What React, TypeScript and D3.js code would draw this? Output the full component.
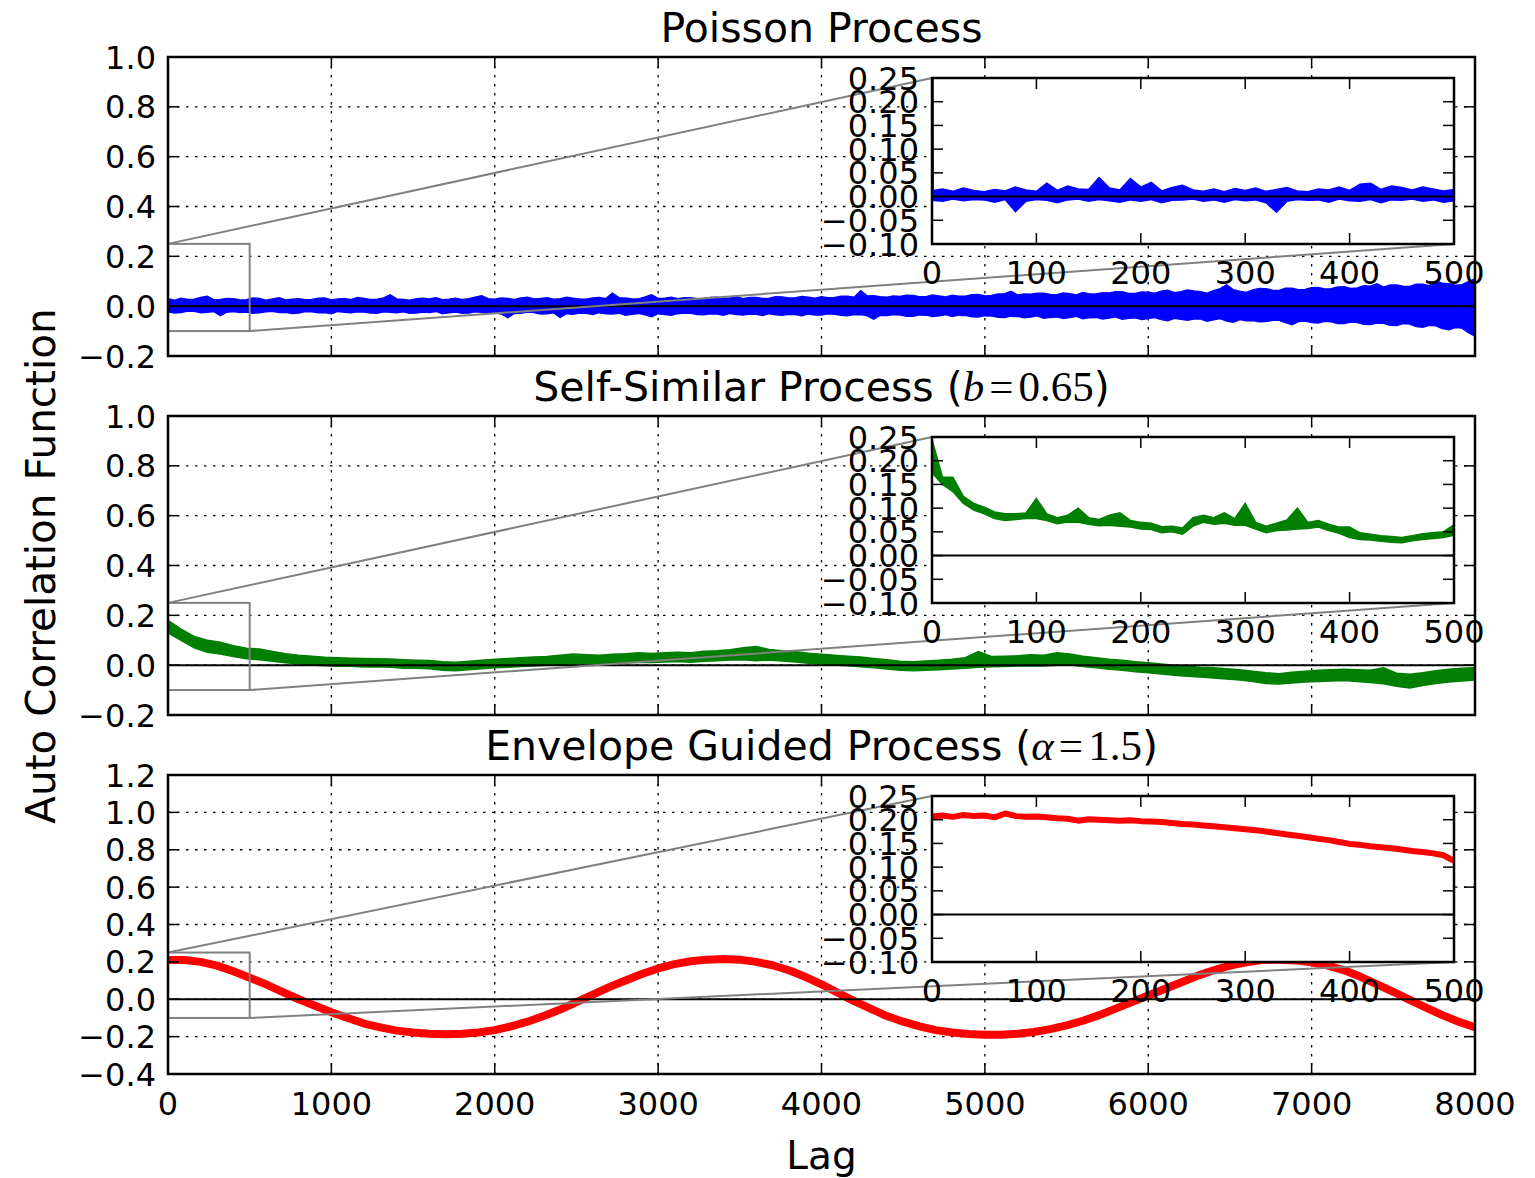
import React from "react";
import * as d3 from "d3";

// ---- values ----
const lagTicks = [0, 1000, 2000, 3000, 4000, 5000, 6000, 7000, 8000];
const insetLagTicks = [0, 100, 200, 300, 400, 500];
const acfTicks = [-0.2, 0, 0.2, 0.4, 0.6, 0.8, 1.0];
const envelopeTicks = [-0.4, -0.2, 0, 0.2, 0.4, 0.6, 0.8, 1.0, 1.2];
const insetTicks = [-0.1, -0.05, 0, 0.05, 0.1, 0.15, 0.2, 0.25];
const zoomBox = { lag: [0, 500], acf: [-0.1, 0.25] };

const poissonLag = 40; // lag spacing of the min/max bins of the Poisson trace
const binLag = 80; // lag spacing of the min/max bins of the self-similar trace
const envelopeLag = 100; // lag spacing of the envelope-guided samples
const insetLag = 10; // lag spacing inside the insets

// Poisson: upper / lower edge of the noisy trace, one pair per 40 lags
const poissonHi = [
  0.030, 0.024, 0.032, 0.027, 0.028, 0.035, 0.040, 0.026, 0.027, 0.031,
  0.030, 0.025, 0.026, 0.033, 0.031, 0.024, 0.029, 0.034, 0.025, 0.028,
  0.030, 0.026, 0.027, 0.032, 0.033, 0.025, 0.029, 0.031, 0.026, 0.035,
  0.031, 0.027, 0.028, 0.033, 0.045, 0.029, 0.027, 0.024, 0.030, 0.032,
  0.029, 0.034, 0.026, 0.028, 0.032, 0.027, 0.030, 0.036, 0.042, 0.030,
  0.028, 0.033, 0.031, 0.027, 0.033, 0.036, 0.029, 0.031, 0.034, 0.028,
  0.030, 0.036, 0.032, 0.029, 0.028, 0.033, 0.035, 0.030, 0.052, 0.034,
  0.033, 0.029, 0.029, 0.037, 0.046, 0.031, 0.032, 0.036, 0.030, 0.034,
  0.034, 0.030, 0.031, 0.035, 0.036, 0.032, 0.033, 0.038, 0.030, 0.035,
  0.035, 0.031, 0.032, 0.038, 0.037, 0.033, 0.034, 0.039, 0.036, 0.032,
  0.038, 0.034, 0.035, 0.040, 0.040, 0.036, 0.062, 0.041, 0.042, 0.038,
  0.036, 0.041, 0.039, 0.044, 0.043, 0.038, 0.038, 0.045, 0.041, 0.037,
  0.044, 0.040, 0.040, 0.046, 0.047, 0.041, 0.043, 0.049, 0.050, 0.060,
  0.045, 0.049, 0.048, 0.052, 0.052, 0.047, 0.046, 0.053, 0.050, 0.045,
  0.055, 0.049, 0.049, 0.054, 0.053, 0.058, 0.058, 0.051, 0.051, 0.057,
  0.056, 0.052, 0.060, 0.064, 0.054, 0.058, 0.065, 0.061, 0.058, 0.052,
  0.062, 0.070, 0.085, 0.066, 0.060, 0.055, 0.065, 0.071, 0.070, 0.064,
  0.063, 0.072, 0.072, 0.066, 0.067, 0.074, 0.075, 0.069, 0.070, 0.077,
  0.078, 0.071, 0.073, 0.082, 0.080, 0.090, 0.076, 0.085, 0.085, 0.080,
  0.079, 0.088, 0.088, 0.082, 0.100, 0.092, 0.090, 0.084, 0.086, 0.098,
  0.110,
];
const poissonLo = [
  -0.022, -0.027, -0.025, -0.019, -0.020, -0.026, -0.024, -0.021, -0.038, -0.024,
  -0.021, -0.025, -0.023, -0.028, -0.026, -0.022, -0.020, -0.025, -0.024, -0.029,
  -0.027, -0.021, -0.022, -0.026, -0.025, -0.030, -0.021, -0.024, -0.026, -0.022,
  -0.023, -0.027, -0.028, -0.022, -0.024, -0.026, -0.022, -0.028, -0.027, -0.023,
  -0.025, -0.021, -0.030, -0.026, -0.023, -0.028, -0.027, -0.022, -0.024, -0.029,
  -0.026, -0.031, -0.046, -0.029, -0.028, -0.023, -0.025, -0.031, -0.030, -0.026,
  -0.045, -0.030, -0.032, -0.027, -0.028, -0.033, -0.026, -0.030, -0.031, -0.028,
  -0.036, -0.032, -0.029, -0.035, -0.042, -0.030, -0.033, -0.036, -0.030, -0.027,
  -0.028, -0.033, -0.034, -0.030, -0.031, -0.036, -0.029, -0.033, -0.035, -0.031,
  -0.032, -0.037, -0.030, -0.034, -0.036, -0.032, -0.033, -0.038, -0.031, -0.035,
  -0.035, -0.030, -0.032, -0.036, -0.038, -0.033, -0.034, -0.039, -0.052, -0.036,
  -0.037, -0.033, -0.035, -0.040, -0.040, -0.035, -0.036, -0.041, -0.038, -0.034,
  -0.041, -0.036, -0.037, -0.042, -0.043, -0.038, -0.039, -0.044, -0.045, -0.040,
  -0.041, -0.046, -0.044, -0.039, -0.048, -0.045, -0.043, -0.049, -0.046, -0.041,
  -0.050, -0.046, -0.045, -0.051, -0.048, -0.043, -0.052, -0.049, -0.047, -0.053,
  -0.050, -0.046, -0.054, -0.058, -0.049, -0.053, -0.056, -0.052, -0.052, -0.060,
  -0.055, -0.050, -0.060, -0.064, -0.054, -0.059, -0.058, -0.063, -0.062, -0.057,
  -0.057, -0.066, -0.074, -0.062, -0.060, -0.066, -0.068, -0.061, -0.063, -0.070,
  -0.070, -0.064, -0.066, -0.073, -0.074, -0.068, -0.069, -0.077, -0.078, -0.070,
  -0.072, -0.082, -0.085, -0.077, -0.079, -0.090, -0.095, -0.086, -0.088, -0.106,
  -0.120,
];
const poissonLag0 = 1.0;
const poissonInsetHi = [
  0.012, 0.016, 0.011, 0.018, 0.013, 0.010, 0.015, 0.012, 0.020, 0.014,
  0.011, 0.028, 0.013, 0.022, 0.016, 0.015, 0.040, 0.018, 0.014, 0.038,
  0.020, 0.030, 0.012, 0.019, 0.024, 0.014, 0.011, 0.016, 0.010, 0.017,
  0.013, 0.018, 0.011, 0.015, 0.019, 0.012, 0.010, 0.016, 0.014, 0.020,
  0.013, 0.026, 0.028, 0.015, 0.022, 0.019, 0.014, 0.020, 0.016, 0.012, 0.015,
];
const poissonInsetLo = [
  -0.008, -0.010, -0.005, -0.009, -0.006, -0.007, -0.012, -0.006, -0.032, -0.010,
  -0.006, -0.008, -0.013, -0.007, -0.005, -0.010, -0.006, -0.009, -0.012, -0.007,
  -0.010, -0.006, -0.013, -0.008, -0.007, -0.005, -0.010, -0.007, -0.012, -0.006,
  -0.009, -0.007, -0.013, -0.033, -0.010, -0.006, -0.008, -0.007, -0.012, -0.005,
  -0.009, -0.010, -0.006, -0.013, -0.007, -0.008, -0.005, -0.010, -0.007, -0.012, -0.009,
];

// Self-similar (b = 0.65)
const selfSimilarHi = [
  0.180, 0.145, 0.115, 0.100, 0.092, 0.078, 0.068, 0.065, 0.055, 0.046,
  0.040, 0.036, 0.032, 0.030, 0.028, 0.027, 0.026, 0.025, 0.022, 0.020,
  0.019, 0.014, 0.012, 0.016, 0.020, 0.024, 0.027, 0.030, 0.033, 0.035,
  0.040, 0.045, 0.042, 0.040, 0.044, 0.046, 0.050, 0.047, 0.050, 0.052,
  0.050, 0.056, 0.058, 0.062, 0.070, 0.075, 0.063, 0.058, 0.055, 0.048,
  0.044, 0.040, 0.036, 0.033, 0.027, 0.022, 0.016, 0.014, 0.017, 0.020,
  0.024, 0.030, 0.055, 0.035, 0.036, 0.038, 0.042, 0.040, 0.050, 0.045,
  0.036, 0.030, 0.024, 0.020, 0.014, 0.010, 0.005, 0.000, -0.004, -0.008,
  -0.010, -0.014, -0.018, -0.024, -0.030, -0.034, -0.028, -0.024, -0.020, -0.018,
  -0.016, -0.018, -0.020, -0.010, -0.032, -0.036, -0.030, -0.022, -0.016, -0.012, -0.010,
];
const selfSimilarLo = [
  0.130, 0.100, 0.070, 0.052, 0.045, 0.035, 0.026, 0.022, 0.016, 0.010,
  0.005, 0.001, -0.002, -0.004, -0.004, -0.007, -0.006, -0.008, -0.012, -0.012,
  -0.014, -0.020, -0.022, -0.018, -0.014, -0.010, -0.008, -0.005, -0.003, 0.000,
  0.003, 0.005, 0.007, 0.004, 0.008, 0.010, 0.012, 0.011, 0.013, 0.015,
  0.012, 0.016, 0.018, 0.021, 0.022, 0.018, 0.021, 0.017, 0.013, 0.008,
  0.005, 0.001, -0.002, -0.006, -0.010, -0.015, -0.020, -0.022, -0.020, -0.018,
  -0.015, -0.012, -0.008, -0.006, -0.005, -0.003, -0.002, -0.003, 0.000, 0.001,
  -0.005, -0.010, -0.016, -0.020, -0.026, -0.030, -0.035, -0.040, -0.044, -0.048,
  -0.052, -0.056, -0.060, -0.066, -0.074, -0.076, -0.072, -0.068, -0.066, -0.064,
  -0.062, -0.066, -0.070, -0.075, -0.085, -0.092, -0.082, -0.074, -0.068, -0.064, -0.060,
];
const selfSimilarInsetHi = [
  0.245, 0.165, 0.165, 0.125, 0.110, 0.102, 0.092, 0.088, 0.088, 0.090,
  0.120, 0.088, 0.080, 0.085, 0.100, 0.080, 0.076, 0.085, 0.090, 0.074,
  0.070, 0.068, 0.061, 0.062, 0.058, 0.080, 0.085, 0.080, 0.090, 0.078,
  0.110, 0.070, 0.062, 0.068, 0.075, 0.100, 0.070, 0.074, 0.066, 0.060,
  0.060, 0.048, 0.045, 0.042, 0.040, 0.038, 0.042, 0.046, 0.048, 0.050, 0.065,
];
const selfSimilarInsetLo = [
  0.175, 0.150, 0.135, 0.110, 0.096, 0.088, 0.078, 0.074, 0.076, 0.078,
  0.078, 0.074, 0.067, 0.071, 0.070, 0.066, 0.063, 0.064, 0.062, 0.060,
  0.056, 0.055, 0.048, 0.050, 0.045, 0.062, 0.070, 0.066, 0.068, 0.064,
  0.064, 0.056, 0.048, 0.053, 0.054, 0.056, 0.057, 0.060, 0.053, 0.047,
  0.038, 0.034, 0.033, 0.030, 0.028, 0.027, 0.031, 0.034, 0.036, 0.038, 0.043,
];

// Envelope guided (alpha = 1.5): one value per 100 lags
const envelopeAcf = [
  0.210, 0.210, 0.200, 0.180, 0.150, 0.115, 0.080, 0.040, 0.000, -0.035,
  -0.070, -0.100, -0.130, -0.150, -0.168, -0.178, -0.185, -0.187, -0.185, -0.178,
  -0.165, -0.145, -0.120, -0.090, -0.055, -0.015, 0.025, 0.065, 0.100, 0.135,
  0.165, 0.188, 0.203, 0.212, 0.215, 0.212, 0.200, 0.182, 0.155, 0.120,
  0.080, 0.035, -0.010, -0.050, -0.090, -0.120, -0.145, -0.165, -0.178, -0.186,
  -0.190, -0.190, -0.185, -0.175, -0.160, -0.140, -0.115, -0.085, -0.050, -0.015,
  0.020, 0.055, 0.090, 0.125, 0.155, 0.180, 0.198, 0.210, 0.212, 0.208,
  0.198, 0.180, 0.155, 0.120, 0.080, 0.040, -0.003, -0.045, -0.085, -0.120, -0.150,
];
const envelopeInsetAcf = [
  0.207, 0.209, 0.206, 0.210, 0.208, 0.209, 0.205, 0.213, 0.208, 0.206,
  0.207, 0.205, 0.203, 0.202, 0.198, 0.201, 0.200, 0.199, 0.198, 0.199,
  0.197, 0.196, 0.195, 0.193, 0.191, 0.190, 0.188, 0.186, 0.184, 0.182,
  0.180, 0.178, 0.175, 0.172, 0.169, 0.166, 0.163, 0.160, 0.157, 0.153,
  0.149, 0.147, 0.144, 0.142, 0.140, 0.137, 0.134, 0.132, 0.129, 0.125, 0.113,
];

const panels = [
  {
    title: "Poisson Process", param: null, color: "#0000ff", yTicks: acfTicks,
    main: { hi: poissonHi, lo: poissonLo, step: poissonLag },
    inset: { hi: poissonInsetHi, lo: poissonInsetLo, step: insetLag, lag0: poissonLag0 },
  },
  {
    title: "Self-Similar Process", param: { symbol: "b", value: "0.65" }, color: "#007f00", yTicks: acfTicks,
    main: { hi: selfSimilarHi, lo: selfSimilarLo, step: binLag },
    inset: { hi: selfSimilarInsetHi, lo: selfSimilarInsetLo, step: insetLag },
  },
  {
    title: "Envelope Guided Process", param: { symbol: "\u03b1", value: "1.5" }, color: "#ff0000", yTicks: envelopeTicks,
    main: { values: envelopeAcf, step: envelopeLag, width: 8 },
    inset: { values: envelopeInsetAcf, step: insetLag, width: 6 },
  },
];

// ---- layout ----
const W = 1535;
const H = 1178;
const axL = 168;
const axR = 1475;
const axTops = [57, 416, 775];
const axH = 299;
const inL = 932;
const inR = 1454;
const inOffset = 21;
const inH = 166;
const tickFont = 32;
const tickLen = 11;
const fmt1 = d3.format(".1f");
const fmt2 = d3.format(".2f");

function Trace({ s, xs, ys, color, clip }) {
  if (s.values) {
    const line = d3.line<number>().x((_, i) => xs(i * s.step)).y((d) => ys(d));
    return (
      <path d={line(s.values) || ""} fill="none" stroke={color} strokeWidth={s.width}
        strokeLinejoin="round" clipPath={`url(#${clip})`} />
    );
  }
  const area = d3.area<number>()
    .x((_, i) => xs(i * s.step))
    .y0((_, i) => ys(s.lo[i]))
    .y1((d) => ys(d));
  // drop from lag 0 to lag 1
  const spike = s.lag0 !== undefined
    ? d3.line<number[]>()([[xs(0), ys(s.lag0)], [xs(1), ys(s.hi[0])]])
    : null;
  return (
    <g clipPath={`url(#${clip})`}>
      <path d={area(s.hi) || ""} fill={color} stroke={color} strokeWidth={1.5} strokeLinejoin="miter" />
      {spike && <path d={spike || ""} fill="none" stroke={color} strokeWidth={2} />}
    </g>
  );
}

function Frame({ x0, x1, y0, y1, xTicks, yTicks, xs, ys }) {
  return (
    <g stroke="#000" strokeWidth={1.5}>
      {xTicks.map((t) => (
        <g key={`x${t}`}>
          <line x1={xs(t)} x2={xs(t)} y1={y1} y2={y1 - tickLen} />
          <line x1={xs(t)} x2={xs(t)} y1={y0} y2={y0 + tickLen} />
        </g>
      ))}
      {yTicks.map((t) => (
        <g key={`y${t}`}>
          <line x1={x0} x2={x0 + tickLen} y1={ys(t)} y2={ys(t)} />
          <line x1={x1} x2={x1 - tickLen} y1={ys(t)} y2={ys(t)} />
        </g>
      ))}
      <rect x={x0} y={y0} width={x1 - x0} height={y1 - y0} fill="none" strokeWidth={2.5} />
    </g>
  );
}

function Panel({ cfg, index }) {
  const top = axTops[index];
  const bottom = top + axH;
  const yDom = [cfg.yTicks[0], cfg.yTicks[cfg.yTicks.length - 1]];
  const x = d3.scaleLinear().domain([0, 8000]).range([axL, axR]);
  const y = d3.scaleLinear().domain(yDom).range([bottom, top]);
  const iTop = top + inOffset;
  const iBottom = iTop + inH;
  const ix = d3.scaleLinear().domain([0, 500]).range([inL, inR]);
  const iy = d3.scaleLinear().domain([insetTicks[0], insetTicks[insetTicks.length - 1]]).range([iBottom, iTop]);
  const clipMain = `clip-main-${index}`;
  const clipInset = `clip-inset-${index}`;
  const cx = (axL + axR) / 2;

  return (
    <g>
      <defs>
        <clipPath id={clipMain}><rect x={axL} y={top} width={axR - axL} height={axH} /></clipPath>
        <clipPath id={clipInset}><rect x={inL} y={iTop} width={inR - inL} height={inH} /></clipPath>
      </defs>

      {/* main axes */}
      <g stroke="#000" strokeWidth={1.3} strokeDasharray="2.5,6.5">
        {lagTicks.map((t) => <line key={`gx${t}`} x1={x(t)} x2={x(t)} y1={top} y2={bottom} />)}
        {cfg.yTicks.map((t) => <line key={`gy${t}`} x1={axL} x2={axR} y1={y(t)} y2={y(t)} />)}
      </g>
      <Trace s={cfg.main} xs={x} ys={y} color={cfg.color} clip={clipMain} />
      <line x1={axL} x2={axR} y1={y(0)} y2={y(0)} stroke="#000" strokeWidth={2} />
      <rect x={x(zoomBox.lag[0])} y={y(zoomBox.acf[1])} width={x(zoomBox.lag[1]) - x(zoomBox.lag[0])}
        height={y(zoomBox.acf[0]) - y(zoomBox.acf[1])} fill="none" stroke="#808080" strokeWidth={2} />
      <line x1={x(zoomBox.lag[0])} y1={y(zoomBox.acf[1])} x2={inL} y2={iTop} stroke="#808080" strokeWidth={2} />
      <line x1={x(zoomBox.lag[1])} y1={y(zoomBox.acf[0])} x2={inR} y2={iBottom} stroke="#808080" strokeWidth={2} />
      <Frame x0={axL} x1={axR} y0={top} y1={bottom} xTicks={lagTicks} yTicks={cfg.yTicks} xs={x} ys={y} />
      <g fontSize={tickFont} textAnchor="end">
        {cfg.yTicks.map((t) => (
          <text key={`ly${t}`} x={axL - 12} y={y(t) + tickFont * 0.36}>{fmt1(t)}</text>
        ))}
      </g>
      {index === panels.length - 1 && (
        <g fontSize={tickFont} textAnchor="middle">
          {lagTicks.map((t) => <text key={`lx${t}`} x={x(t)} y={bottom + 41}>{t}</text>)}
        </g>
      )}

      {/* inset */}
      <rect x={inL} y={iTop} width={inR - inL} height={inH} fill="#fff" />
      <Trace s={cfg.inset} xs={ix} ys={iy} color={cfg.color} clip={clipInset} />
      <line x1={inL} x2={inR} y1={iy(0)} y2={iy(0)} stroke="#000" strokeWidth={2} />
      <Frame x0={inL} x1={inR} y0={iTop} y1={iBottom} xTicks={insetLagTicks} yTicks={insetTicks} xs={ix} ys={iy} />
      <g fontSize={tickFont} textAnchor="end">
        {insetTicks.map((t) => (
          <text key={`iy${t}`} x={inL - 13} y={iy(t) + tickFont * 0.36}>{fmt2(t)}</text>
        ))}
      </g>
      <g fontSize={tickFont} textAnchor="middle">
        {insetLagTicks.map((t) => <text key={`ix${t}`} x={ix(t)} y={iBottom + 40}>{t}</text>)}
      </g>

      <text x={cx} y={top - 15} textAnchor="middle" fontSize={41}>
        {cfg.param ? `${cfg.title} (` : cfg.title}
        {cfg.param && <tspan fontFamily="Liberation Serif" fontStyle="italic" fontSize={43}>{cfg.param.symbol}</tspan>}
        {cfg.param && <tspan fontFamily="Liberation Serif" fontSize={43} dx={5}>=</tspan>}
        {cfg.param && <tspan fontFamily="Liberation Serif" fontSize={43} dx={5}>{cfg.param.value}</tspan>}
        {cfg.param && <tspan>)</tspan>}
      </text>
    </g>
  );
}

export default function App() {
  return (
    <div style={{ position: "absolute", left: 0, top: 0 }}>
      <svg width={W} height={H} fontFamily="DejaVu Sans" style={{ display: "block" }}>
        <rect width={W} height={H} fill="#fff" />
        {panels.map((p, i) => <Panel key={i} cfg={p} index={i} />)}
        <text x={41} y={566} transform="rotate(-90 41 566)" textAnchor="middle"
          dominantBaseline="central" fontSize={40.5}>Auto Correlation Function</text>
        <text x={(axL + axR) / 2} y={1169} textAnchor="middle" fontSize={39}>Lag</text>
      </svg>
    </div>
  );
}
